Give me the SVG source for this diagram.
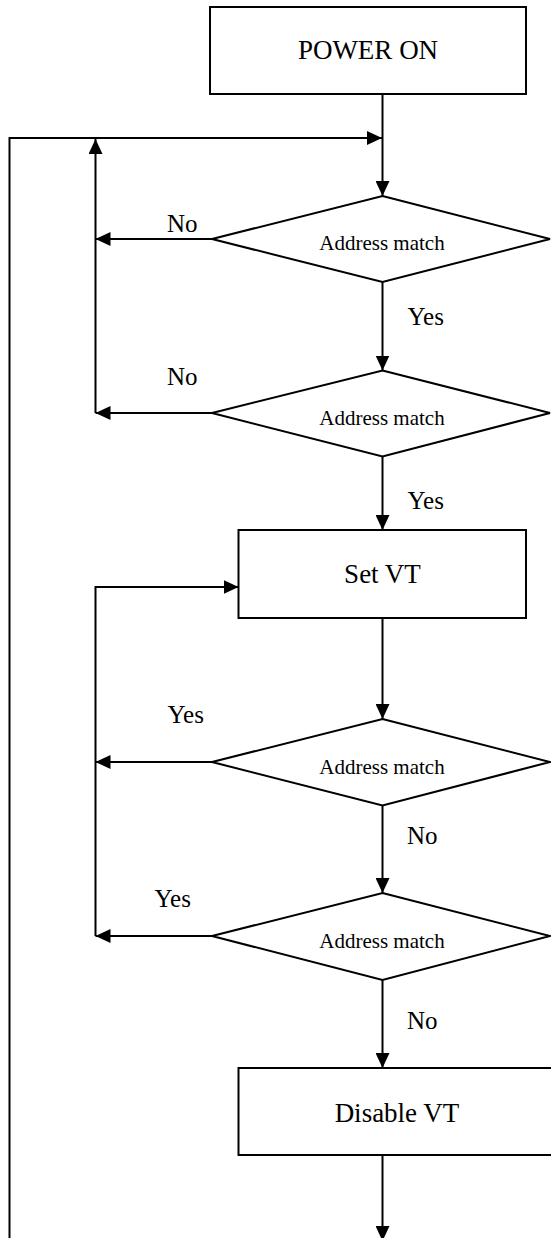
<svg xmlns="http://www.w3.org/2000/svg" width="551" height="1238" viewBox="0 0 551 1238">
<style>
.box{fill:#fff;stroke:#000;stroke-width:2}
.line{fill:none;stroke:#000;stroke-width:2}
.arr{marker-end:url(#ah)}
.t{font-family:"Liberation Serif","Times New Roman",serif;fill:#000}
.big{font-size:27px;text-anchor:middle}
.dt{font-size:21px;text-anchor:middle}
.lb{font-size:25px}
</style>
<defs>
<marker id="ah" markerUnits="userSpaceOnUse" markerWidth="15" markerHeight="14" refX="15" refY="7" orient="auto">
<path d="M0,0 L15,7 L0,14 z" fill="#000"/>
</marker>
</defs>
<rect width="551" height="1238" fill="#fff"/>
<g id="connectors">
<path class="line arr" d="M382.5,94 V196"/>
<path class="line arr" d="M9.5,1238 V138 H382"/>
<path class="line arr" d="M95.5,413 V139"/>
<path class="line arr" d="M212,239 H95.5"/>
<path class="line arr" d="M382.5,282 V370.5"/>
<path class="line arr" d="M212,413 H95.5"/>
<path class="line arr" d="M382.5,456.5 V530"/>
<path class="line arr" d="M382.5,618 V719"/>
<path class="line arr" d="M95.5,936 V587 H238.5"/>
<path class="line arr" d="M212,762 H95.5"/>
<path class="line arr" d="M382.5,805.5 V893"/>
<path class="line arr" d="M212,936 H95.5"/>
<path class="line arr" d="M382.5,980 V1068"/>
<path class="line arr" d="M382.5,1155 V1241"/>
<text class="t lb" x="167" y="232">No</text>
<text class="t lb" x="407.5" y="325">Yes</text>
<text class="t lb" x="167" y="385">No</text>
<text class="t lb" x="407.5" y="509">Yes</text>
<text class="t lb" x="167.5" y="723">Yes</text>
<text class="t lb" x="407" y="844">No</text>
<text class="t lb" x="154.5" y="907">Yes</text>
<text class="t lb" x="407" y="1029">No</text>
</g>
<g id="power-on">
<rect class="box" x="210" y="7" width="316" height="87"/>
<text class="t big" x="368" y="59">POWER ON</text>
</g>
<g id="decision1">
<polygon class="box" points="382.5,196 550,239 382.5,282 212,239"/>
<text class="t dt" x="382" y="250">Address match</text>
</g>
<g id="decision2">
<polygon class="box" points="382.5,370.5 550,413 382.5,456.5 212,413"/>
<text class="t dt" x="382" y="425">Address match</text>
</g>
<g id="set-vt">
<rect class="box" x="238.5" y="530" width="287.5" height="88"/>
<text class="t big" x="382.5" y="583">Set VT</text>
</g>
<g id="decision3">
<polygon class="box" points="382.5,719 550,762 382.5,805.5 212,762"/>
<text class="t dt" x="382" y="774">Address match</text>
</g>
<g id="decision4">
<polygon class="box" points="382.5,893 550,936 382.5,980 212,936"/>
<text class="t dt" x="382" y="948">Address match</text>
</g>
<g id="disable-vt">
<rect class="box" x="238.5" y="1068" width="318" height="87"/>
<text class="t big" x="397" y="1122">Disable VT</text>
</g>
</svg>
